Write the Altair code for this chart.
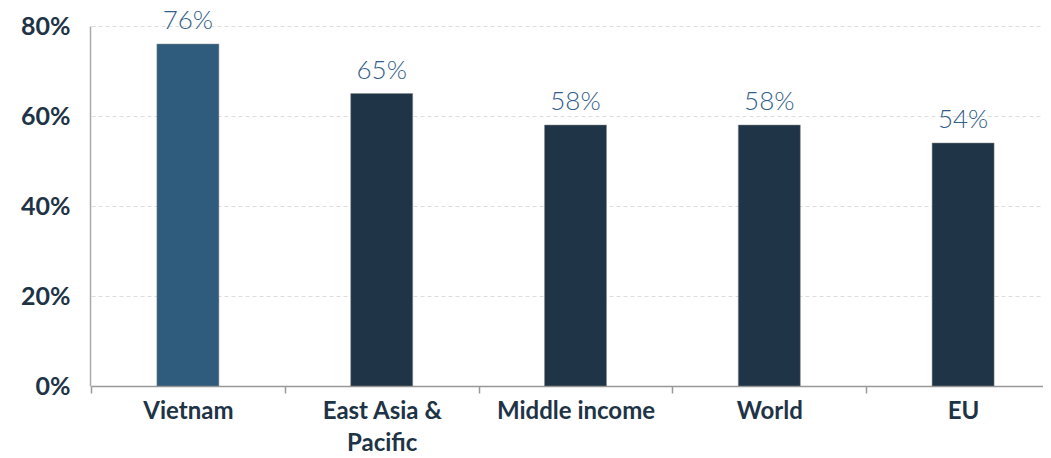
import altair as alt
import pandas as pd

categories = ["Vietnam", "East Asia & Pacific", "Middle income", "World", "EU"]
values = [76, 65, 58, 58, 54]
bar_colors = ["#2f5b7c", "#1f3446", "#1f3446", "#1f3446", "#1f3446"]
y_ticks = [0, 20, 40, 60, 80]

df = pd.DataFrame({"cat": categories, "val": values, "color": bar_colors})

x = alt.X(
    "cat:N",
    sort=categories,
    title=None,
    scale=alt.Scale(paddingInner=0, paddingOuter=0, range=[1, 970]),
    axis=alt.Axis(
        labelAngle=0,
        tickBand="extent",
        labelFont="Lato",
        labelFontWeight="bold",
        labelFontSize=24,
        labelColor="#1e3446",
        labelPadding=6,
        labelLineHeight=32,
        labelExpr="datum.label == 'East Asia & Pacific' ? ['East Asia &', 'Pacific'] : datum.label",
        tickSize=7,
        tickColor="#999999",
        tickWidth=1.5,
        domainColor="#999999",
        domainWidth=1.5,
        grid=False,
    ),
)

y = alt.Y(
    "val:Q",
    title=None,
    scale=alt.Scale(domain=[0, 80], nice=False),
    axis=alt.Axis(
        values=y_ticks,
        labelExpr="datum.value + '%'",
        labelFont="Lato",
        labelFontWeight="bold",
        labelFontSize=25,
        labelColor="#1e3446",
        labelPadding=20,
        ticks=False,
        domainColor="#aaaaaa",
        domainWidth=1.5,
        gridColor="#dddddd",
        gridDash=[4, 3],
        gridWidth=1,
    ),
)

base = alt.Chart(df).encode(x=x, y=y)

bars = base.mark_bar(width=62, stroke="#888888", strokeWidth=0.5).encode(
    color=alt.Color("color:N", scale=None)
)

labels = base.transform_calculate(lab="datum.val + '%'").mark_text(
    dy=-15, baseline="alphabetic", font="Lato", fontSize=26, fontWeight=300, color="#33608a"
).encode(text="lab:N")

chart = (
    (bars + labels)
    .properties(
        width=953,
        height=360,
        autosize=alt.AutoSizeParams(type="none"),
        padding={"left": 82, "top": 18, "right": 0, "bottom": 68},
    )
    .configure_view(stroke=None)
)

chart.save("out.html", embed_options={"renderer": "svg", "actions": False})
